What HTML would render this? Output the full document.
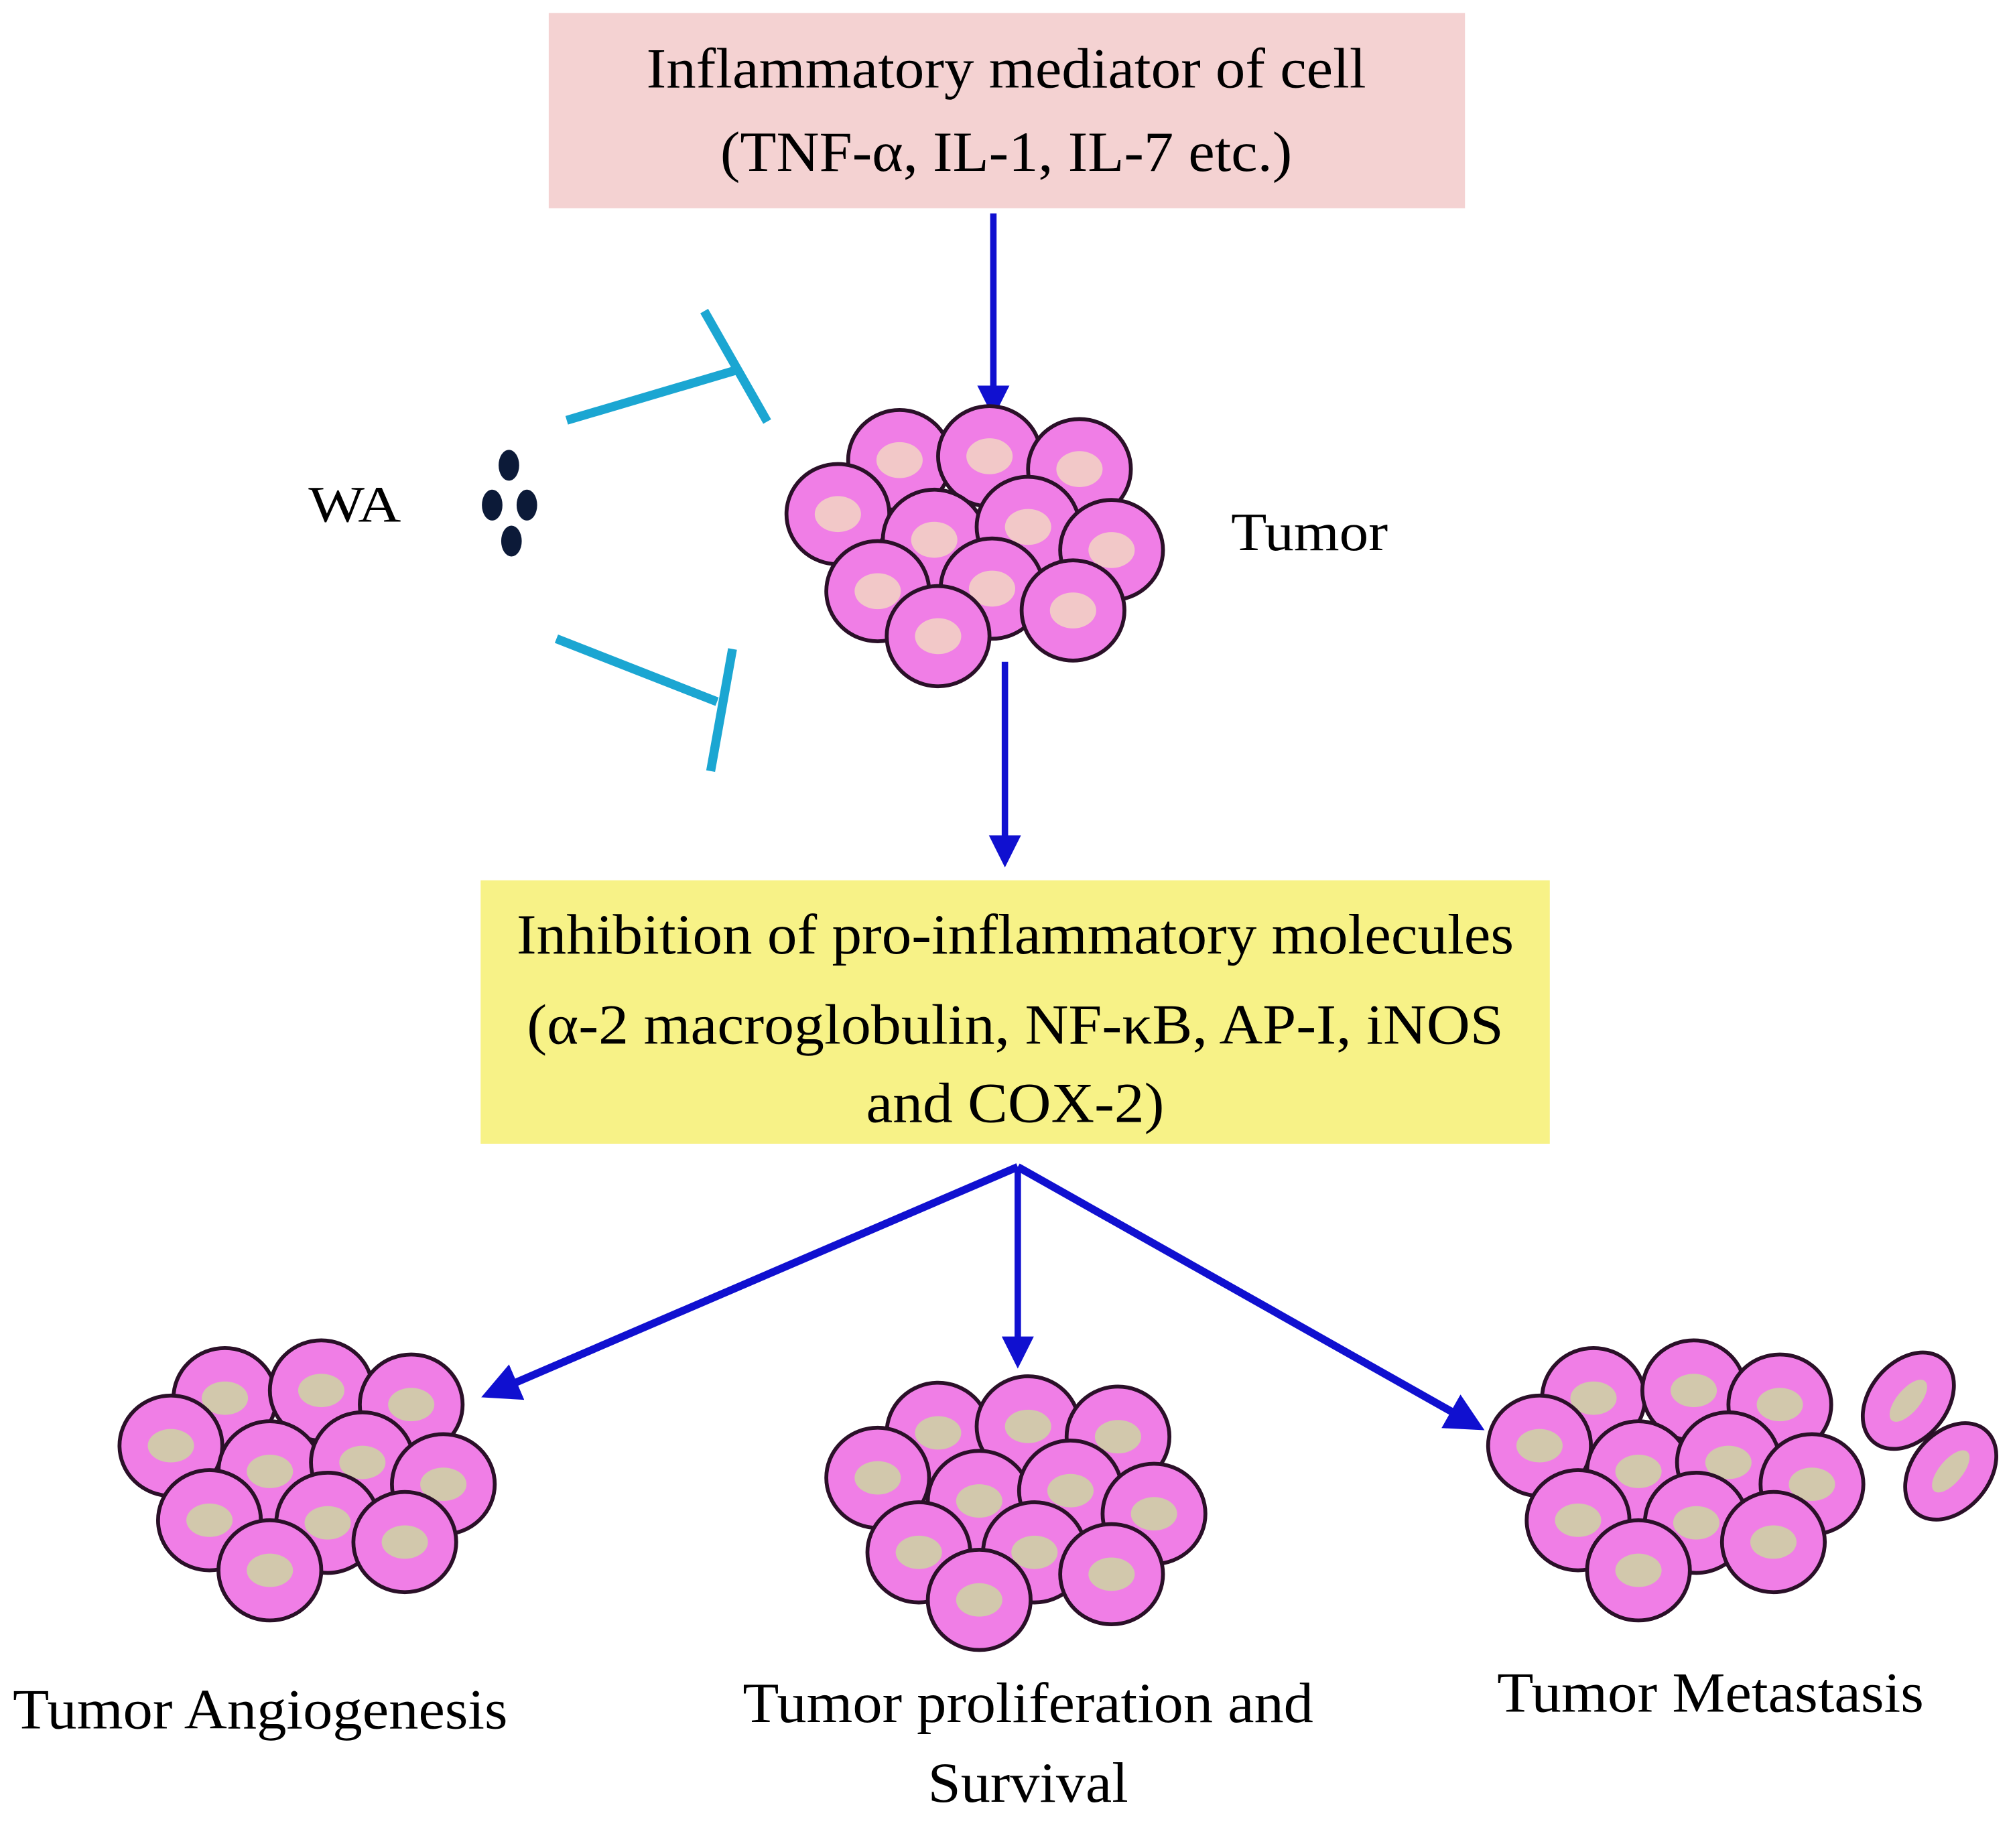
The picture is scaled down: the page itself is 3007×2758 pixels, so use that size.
<!DOCTYPE html>
<html><head><meta charset="utf-8"><style>html,body{margin:0;padding:0;background:#fff}svg{display:block}</style></head>
<body>
<svg width="3007" height="2758" viewBox="0 0 1568 1438" xmlns="http://www.w3.org/2000/svg" font-family="'Liberation Serif', serif">
<defs>
<marker id="ah" markerWidth="5" markerHeight="5" refX="4" refY="2.5" orient="auto" markerUnits="strokeWidth"><path d="M0,0 L5,2.5 L0,5 Z" fill="#1010d0"/></marker>
<g id="cp"><ellipse cx="0" cy="0" rx="40" ry="39" fill="#f07ee6" stroke="#2a1028" stroke-width="3"/><ellipse cx="0" cy="0" rx="18" ry="14" fill="#f2c8c8"/></g>
<g id="cb"><ellipse cx="0" cy="0" rx="40" ry="39" fill="#f07ee6" stroke="#2a1028" stroke-width="3"/><ellipse cx="0" cy="0" rx="18" ry="13" fill="#d2c8ac"/></g>
</defs>
<rect x="427" y="10" width="713" height="152" fill="#f4d2d2"/>
<text x="783" y="68" font-size="44" text-anchor="middle" textLength="560" lengthAdjust="spacingAndGlyphs">Inflammatory mediator of cell</text>
<text x="783" y="133" font-size="44" text-anchor="middle" textLength="445" lengthAdjust="spacingAndGlyphs">(TNF-α, IL-1, IL-7 etc.)</text>
<line x1="773" y1="166" x2="773" y2="320" stroke="#1010d0" stroke-width="5" marker-end="url(#ah)"/>
<g stroke="#1ba6d2" stroke-width="7" stroke-linecap="butt">
<line x1="441" y1="327" x2="573" y2="288"/><line x1="548" y1="242" x2="597" y2="328"/>
<line x1="433" y1="497" x2="558" y2="546"/><line x1="570" y1="505" x2="553" y2="600"/>
</g>
<text x="240" y="406" font-size="40" textLength="72" lengthAdjust="spacingAndGlyphs">WA</text>
<g fill="#0c1a38"><ellipse cx="396" cy="362" rx="8" ry="12"/><ellipse cx="383" cy="393" rx="8" ry="12"/><ellipse cx="410" cy="393" rx="8" ry="12"/><ellipse cx="398" cy="421" rx="8" ry="12"/></g>
<g>
<use href="#cp" x="700" y="358"/><use href="#cp" x="770" y="355"/><use href="#cp" x="840" y="365"/><use href="#cp" x="652" y="400"/><use href="#cp" x="727" y="420"/><use href="#cp" x="800" y="410"/><use href="#cp" x="865" y="428"/><use href="#cp" x="683" y="460"/><use href="#cp" x="772" y="458"/><use href="#cp" x="730" y="495"/><use href="#cp" x="835" y="475"/>
</g>
<text x="958" y="428" font-size="42" textLength="122" lengthAdjust="spacingAndGlyphs">Tumor</text>
<line x1="782" y1="515" x2="782" y2="670" stroke="#1010d0" stroke-width="5" marker-end="url(#ah)"/>
<rect x="374" y="685" width="832" height="205" fill="#f7f287"/>
<text x="790" y="742" font-size="44" text-anchor="middle" textLength="776" lengthAdjust="spacingAndGlyphs">Inhibition of pro-inflammatory molecules</text>
<text x="790" y="812" font-size="44" text-anchor="middle" textLength="760" lengthAdjust="spacingAndGlyphs">(α-2 macroglobulin, NF-κB, AP-I, iNOS</text>
<text x="790" y="873" font-size="44" text-anchor="middle" textLength="232" lengthAdjust="spacingAndGlyphs">and COX-2)</text>
<g stroke="#1010d0" stroke-width="6" fill="none">
<line x1="792" y1="908" x2="380" y2="1085" marker-end="url(#ah)"/>
<line x1="792" y1="908" x2="792" y2="1060" stroke-width="5" marker-end="url(#ah)"/>
<line x1="792" y1="908" x2="1150" y2="1110" marker-end="url(#ah)"/>
</g>
<g>
<use href="#cb" x="175" y="1088"/><use href="#cb" x="250" y="1082"/><use href="#cb" x="320" y="1093"/><use href="#cb" x="133" y="1125"/><use href="#cb" x="210" y="1145"/><use href="#cb" x="282" y="1138"/><use href="#cb" x="345" y="1155"/><use href="#cb" x="163" y="1183"/><use href="#cb" x="255" y="1185"/><use href="#cb" x="210" y="1222"/><use href="#cb" x="315" y="1200"/>
</g>
<g>
<use href="#cb" x="730" y="1115"/><use href="#cb" x="800" y="1110"/><use href="#cb" x="870" y="1118"/><use href="#cb" x="683" y="1150"/><use href="#cb" x="762" y="1168"/><use href="#cb" x="833" y="1160"/><use href="#cb" x="898" y="1178"/><use href="#cb" x="715" y="1208"/><use href="#cb" x="805" y="1208"/><use href="#cb" x="762" y="1245"/><use href="#cb" x="865" y="1225"/>
</g>
<g>
<use href="#cb" x="1240" y="1088"/><use href="#cb" x="1318" y="1082"/><use href="#cb" x="1385" y="1093"/><use href="#cb" x="1198" y="1125"/><use href="#cb" x="1275" y="1145"/><use href="#cb" x="1345" y="1138"/><use href="#cb" x="1410" y="1155"/><use href="#cb" x="1228" y="1183"/><use href="#cb" x="1320" y="1185"/><use href="#cb" x="1275" y="1222"/><use href="#cb" x="1380" y="1200"/>
<g transform="translate(1485,1090) rotate(-50)"><ellipse rx="42" ry="30" fill="#f07ee6" stroke="#2a1028" stroke-width="3"/><ellipse rx="20" ry="9" fill="#d2c8ac"/></g>
<g transform="translate(1518,1145) rotate(-50)"><ellipse rx="42" ry="30" fill="#f07ee6" stroke="#2a1028" stroke-width="3"/><ellipse rx="20" ry="9" fill="#d2c8ac"/></g>
</g>
<text x="10" y="1345" font-size="44" textLength="385" lengthAdjust="spacingAndGlyphs">Tumor Angiogenesis</text>
<text x="800" y="1340" font-size="44" text-anchor="middle" textLength="444" lengthAdjust="spacingAndGlyphs">Tumor proliferation and</text>
<text x="800" y="1402" font-size="44" text-anchor="middle" textLength="156" lengthAdjust="spacingAndGlyphs">Survival</text>
<text x="1331" y="1332" font-size="44" text-anchor="middle" textLength="332" lengthAdjust="spacingAndGlyphs">Tumor Metastasis</text>
</svg>
</body></html>
